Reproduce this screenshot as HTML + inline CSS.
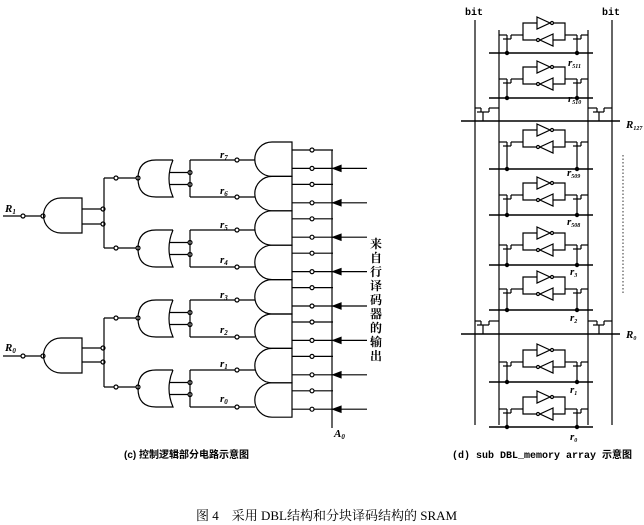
<!DOCTYPE html>
<html><head><meta charset="utf-8"><style>
html,body{margin:0;padding:0;background:#fff;width:644px;height:525px;overflow:hidden}
svg{display:block}
text{font-family:"Liberation Serif","Noto Serif CJK SC",serif;fill:#000}
.m{font-family:"Liberation Mono","Noto Sans CJK SC",monospace;font-weight:bold}
.i{font-style:italic;font-weight:bold}
.c{font-family:"Liberation Sans","Noto Sans CJK SC",sans-serif;font-weight:bold}
</style></head><body>
<svg id="s" width="644" height="525" viewBox="0 0 644 525" stroke="#000" fill="none" stroke-width="1.2">
<g id="g"></g>
<text x="5" y="212" class="i" font-size="11" stroke="none">R<tspan font-size="7" dy="2">1</tspan></text>
<text x="5" y="351" class="i" font-size="11" stroke="none">R<tspan font-size="7" dy="2">0</tspan></text>
<text x="220" y="158" class="i" font-size="11" stroke="none">r<tspan font-size="7" dy="2">7</tspan></text>
<text x="220" y="194" class="i" font-size="11" stroke="none">r<tspan font-size="7" dy="2">6</tspan></text>
<text x="220" y="228" class="i" font-size="11" stroke="none">r<tspan font-size="7" dy="2">5</tspan></text>
<text x="220" y="263" class="i" font-size="11" stroke="none">r<tspan font-size="7" dy="2">4</tspan></text>
<text x="220" y="298" class="i" font-size="11" stroke="none">r<tspan font-size="7" dy="2">3</tspan></text>
<text x="220" y="333" class="i" font-size="11" stroke="none">r<tspan font-size="7" dy="2">2</tspan></text>
<text x="220" y="367" class="i" font-size="11" stroke="none">r<tspan font-size="7" dy="2">1</tspan></text>
<text x="220" y="402" class="i" font-size="11" stroke="none">r<tspan font-size="7" dy="2">0</tspan></text>
<text x="334" y="437" class="i" font-size="11" stroke="none">A<tspan font-size="7" dy="2">0</tspan></text>
<g class="c" font-size="12" stroke="none">
<text x="370" y="248">来</text><text x="370" y="262">自</text><text x="370" y="276">行</text><text x="370" y="290">译</text><text x="370" y="304">码</text><text x="370" y="318">器</text><text x="370" y="332">的</text><text x="370" y="346">输</text><text x="370" y="360">出</text>
</g>
<text x="124" y="458" class="c" font-size="10" stroke="none">(c) 控制逻辑部分电路示意图</text>
<text x="465" y="15" class="m" font-size="10" stroke="none">bit</text>
<text x="602" y="15" class="m" font-size="10" stroke="none">bit</text>
<text x="568" y="66" class="i" font-size="11" stroke="none">r<tspan font-size="6" dy="2">511</tspan></text>
<text x="568" y="102" class="i" font-size="11" stroke="none">r<tspan font-size="6" dy="2">510</tspan></text>
<text x="567" y="176" class="i" font-size="11" stroke="none">r<tspan font-size="6" dy="2">509</tspan></text>
<text x="567" y="225" class="i" font-size="11" stroke="none">r<tspan font-size="6" dy="2">508</tspan></text>
<text x="570" y="275" class="i" font-size="11" stroke="none">r<tspan font-size="6" dy="2">3</tspan></text>
<text x="570" y="321" class="i" font-size="11" stroke="none">r<tspan font-size="6" dy="2">2</tspan></text>
<text x="570" y="393" class="i" font-size="11" stroke="none">r<tspan font-size="6" dy="2">1</tspan></text>
<text x="570" y="440" class="i" font-size="11" stroke="none">r<tspan font-size="6" dy="2">0</tspan></text>
<text x="626" y="128" class="i" font-size="11" stroke="none">R<tspan font-size="6" dy="2">127</tspan></text>
<text x="626" y="338" class="i" font-size="11" stroke="none">R<tspan font-size="6" dy="2">0</tspan></text>
<text x="452" y="458" class="m" font-size="10" stroke="none">(d) sub DBL_memory array 示意图</text>
<text x="196" y="520" font-size="13" stroke="none">图 4　采用 DBL结构和分块译码结构的 SRAM</text>
</svg>
<script>
var g=document.getElementById('g'),h='';
function L(a,b,c,d,x){h+='<line x1="'+a+'" y1="'+b+'" x2="'+c+'" y2="'+d+'"'+(x||'')+'/>';}
function P(d,x){h+='<path d="'+d+'"'+(x||'')+'/>';}
function C(x,y,r){h+='<circle cx="'+x+'" cy="'+y+'" r="'+(r||2)+'" fill="#fff"/>';}
function ANDg(x0,y0,y1){var m=(y0+y1)/2,r=(y1-y0)/2;P('M'+(x0+39)+' '+y0+' H'+(x0+18)+' A'+r+' '+r+' 0 0 0 '+(x0+18)+' '+y1+' H'+(x0+39)+' Z');}
function OR(x0,y0,y1){var m=(y0+y1)/2;P('M'+(x0+35)+' '+y0+' H'+(x0+18)+' Q'+x0+' '+y0+' '+x0+' '+m+' Q'+x0+' '+y1+' '+(x0+18)+' '+y1+' H'+(x0+35)+' Q'+(x0+27)+' '+m+' '+(x0+35)+' '+y0);}
[[216,198,233,209,224,178,248],[356,338,373,348,362,318,387]].forEach(function(a){
 L(3,a[0],43,a[0]);C(23,a[0]);C(43,a[0]);ANDg(43,a[1],a[2]);
 L(82,a[3],103,a[3]);L(82,a[4],103,a[4]);C(103,a[3]);C(103,a[4]);
 L(104,a[5],104,a[6]);L(104,a[5],138,a[5]);L(104,a[6],138,a[6]);C(116,a[5]);C(116,a[6]);C(138,a[5]);C(138,a[6]);
});
[[160,197],[230,267],[300,337],[370,407]].forEach(function(a){
 OR(138,a[0],a[1]);var m=(a[0]+a[1])/2;
 L(170,m-6,190,m-6);L(170,m+6,190,m+6);C(190,m-6);C(190,m+6);
 L(190,a[0],190,a[1]);L(190,a[0],255,a[0]);L(190,a[1],255,a[1]);C(237,a[0]);C(237,a[1]);
});
for(var i=0;i<8;i++){var y0=142+i*34.4,y1=y0+34.4,m=(y0+y1)/2,r=17.2;
 P('M292 '+y0+' H272 A'+r+' '+r+' 0 0 0 272 '+y1+' H292 Z');
 var ya=y0+8,yb=y1-8;L(292,ya,333,ya);L(292,yb,333,yb);C(312,ya);C(312,yb);
 L(333,yb,367,yb);P('M333 '+yb+' l8 -3 v6 z',' fill="#000"');}
L(332,150,332,428);
L(475,20,475,425);L(612,20,612,425);L(499,30,499,425);L(588,30,588,425);
function cell(t,w){var b=t+17;
 P('M523 '+(t+5)+' H565 V'+(t+22)+' H523 Z');
 P('M537 '+(t-1)+' L550 '+(t+5)+' L537 '+(t+11)+' Z',' fill="#fff"');C(552,t+5,1.5);
 P('M553 '+(t+16)+' L540 '+(t+22)+' L553 '+(t+28)+' Z',' fill="#fff"');C(538,t+22,1.5);
 L(499,b,507,b);L(507,b,507,b+4);L(503,b+4,511,b+4);L(511,b,523,b);L(511,b,511,b+4);L(507,b+4,507,w);
 L(565,b,577,b);L(577,b,577,b+4);L(573,b+4,581,b+4);L(581,b,588,b);L(581,b,581,b+4);L(577,b+4,577,w);
 L(489,w,593,w,' stroke-width="1.5"');h+='<circle cx="507" cy="'+w+'" r="1.6" fill="#000"/><circle cx="577" cy="'+w+'" r="1.6" fill="#000"/>';}
[[18,53],[62,98],[125,169],[178,215],[228,265],[272,310],[345,382],[392,427]].forEach(function(c){cell(c[0],c[1]);});
[[121,108],[334,321]].forEach(function(a){var y=a[0],t=a[1];
 L(461,y,620,y,' stroke-width="1.5"');
 L(475,t,481,t);L(481,t,481,t+4);L(477,t+4,489,t+4);L(489,t,499,t);L(489,t,489,t+4);L(483,t+4,483,y);
 L(588,t,597,t);L(597,t,597,t+4);L(593,t+4,604,t+4);L(604,t,612,t);L(604,t,604,t+4);L(599,t+4,599,y);});
L(623,155,623,295,' stroke-dasharray="1.5 2" stroke-width="0.8"');
g.innerHTML=h;
</script>
</body></html>
